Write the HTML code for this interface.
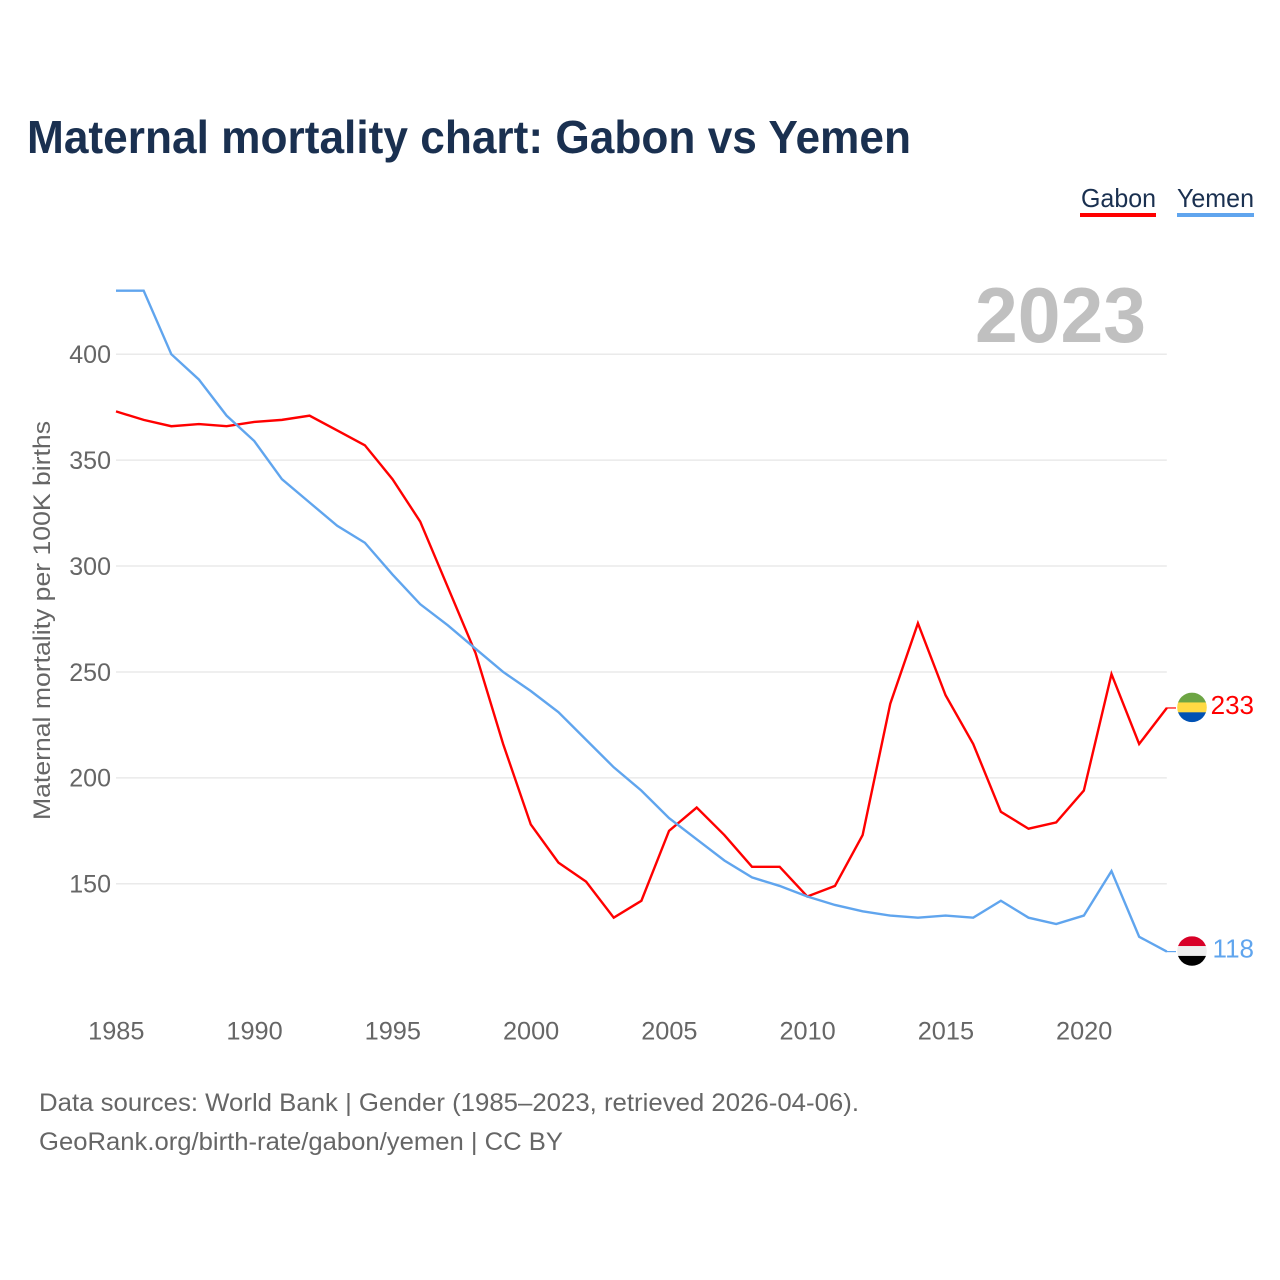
<!DOCTYPE html>
<html lang="en">
<head>
<meta charset="utf-8">
<title>Maternal mortality chart: Gabon vs Yemen</title>
<style>
html,body{margin:0;padding:0;background:#fff;width:1280px;height:1280px;overflow:hidden}
svg{display:block;font-family:"Liberation Sans",sans-serif}
</style>
</head>
<body>
<svg id="chart" xmlns="http://www.w3.org/2000/svg" width="1280" height="1280" viewBox="0 0 1280 1280">
  <defs>
    <clipPath id="clip-gabon"><circle id="clip-gabon-c" r="14.8"></circle></clipPath>
    <clipPath id="clip-yemen"><circle id="clip-yemen-c" r="14.8"></circle></clipPath>
  </defs>
  <rect width="1280" height="1280" fill="#fff"></rect>
  <text x="27" y="153" font-size="46" font-weight="700" fill="#1a3050" textLength="884" lengthAdjust="spacingAndGlyphs">Maternal mortality chart: Gabon vs Yemen</text>
  <g>
    <g>
      <text x="1081" y="207" font-size="26" fill="#1a3050" textLength="75" lengthAdjust="spacingAndGlyphs">Gabon</text>
      <rect x="1080" y="213" width="76" height="4" fill="#ff0000"></rect>
    </g>
    <g>
      <text x="1177" y="207" font-size="26" fill="#1a3050" textLength="77" lengthAdjust="spacingAndGlyphs">Yemen</text>
      <rect x="1177" y="213" width="77" height="4" fill="#60a5ee"></rect>
    </g>
  </g>
  <text x="975" y="342" font-size="78" font-weight="700" fill="#c0c0c0" textLength="171" lengthAdjust="spacingAndGlyphs">2023</text>
  <g id="grid"></g>
  <g id="yticks"></g>
  <g id="xticks"></g>
  <text transform="translate(50,820) rotate(-90)" font-size="24" fill="#666666" textLength="399" lengthAdjust="spacingAndGlyphs">Maternal mortality per 100K births</text>
  <g id="series"></g>
  <g id="ends"></g>
  <text x="39" y="1111" font-size="25" fill="#666666" textLength="820" lengthAdjust="spacingAndGlyphs">Data sources: World Bank | Gender (1985–2023, retrieved 2026-04-06).</text>
  <text x="39" y="1150" font-size="25" fill="#666666" textLength="524" lengthAdjust="spacingAndGlyphs">GeoRank.org/birth-rate/gabon/yemen | CC BY</text>
</svg>
<script>
const years = [1985,1986,1987,1988,1989,1990,1991,1992,1993,1994,1995,1996,1997,1998,1999,2000,2001,2002,2003,2004,2005,2006,2007,2008,2009,2010,2011,2012,2013,2014,2015,2016,2017,2018,2019,2020,2021,2022,2023];
const gabonValues = [373,369,366,367,366,368,369,371,364,357,341,321,290,259,216,178,160,151,134,142,175,186,173,158,158,144,149,173,235,273,239,216,184,176,179,194,249,216,233];
const yemenValues = [430,430,400,388,371,359,341,330,319,311,296,282,272,261,250,241,231,218,205,194,181,171,161,153,149,144,140,137,135,134,135,134,142,134,131,135,156,125,118];
const yTickLabels = [400,350,300,250,200,150];
const xTickLabels = [1985,1990,1995,2000,2005,2010,2015,2020];

const NS = 'http://www.w3.org/2000/svg';
function xScale(year){ return 116 + (year - 1985) * (1166.8 - 116) / 38; }
function yScale(v){ return 354.2 + (400 - v) * (883.8 - 354.2) / 250; }
function make(tag, attrs, parent){
  const el = document.createElementNS(NS, tag);
  for (const k in attrs) el.setAttribute(k, attrs[k]);
  parent.appendChild(el);
  return el;
}

const gridG = document.getElementById('grid');
const yG = document.getElementById('yticks');
yTickLabels.forEach(function(v){
  const line = make('line', {x1:116, x2:1166.8, y1:yScale(v), y2:yScale(v), stroke:'#eaeaea', 'stroke-width':1.5}, gridG);
  
  
  const t = make('text', {x:111, y:yScale(v) + 8.8, 'text-anchor':'end', 'font-size':25, fill:'#666666'}, yG);
  
  
  t.textContent = v;
});

const xG = document.getElementById('xticks');
xTickLabels.forEach(function(y){
  const t = make('text', {x:xScale(y) + 0.3, y:1039.5, 'text-anchor':'middle', 'font-size':25.3, fill:'#666666'}, xG);
  
  
  t.textContent = y;
});

const seriesG = document.getElementById('series');
function drawLine(values, color, name){
  const pts = values.map(function(v, i){ return xScale(years[i]).toFixed(2) + ',' + yScale(v).toFixed(2); }).join(' ');
  const p = make('polyline', {points:pts, fill:'none', stroke:color, 'stroke-width':2.4, 'stroke-linejoin':'miter'}, seriesG);
  
  
}
drawLine(gabonValues, '#ff0000', 'line-gabon');
drawLine(yemenValues, '#60a5ee', 'line-yemen');

const endsG = document.getElementById('ends');
function drawEnd(values, color, clipId, bands, name){
  const v = values[values.length - 1];
  const yEnd = yScale(v);
  const stub = make('line', {x1:1166, x2:1176, y1:yEnd, y2:yEnd, stroke:color, 'stroke-width':1.2}, endsG);
  
  
  const cy = yEnd - 0.6;
  const c = document.getElementById(clipId + '-c');
  c.setAttribute('cx', 1192);
  c.setAttribute('cy', cy);
  const flag = make('g', {'clip-path':'url(#' + clipId + ')'}, endsG);
  
  
  const h = 29.6 / bands.length;
  bands.forEach(function(col, i){
    const r = make('rect', {x:1177, y:cy - 14.8 + i * h, width:30, height:h + 0.2, fill:col}, flag);
    
    
  });
  const t = make('text', {x:1254, y:yEnd + 5.8, 'text-anchor':'end', 'font-size':26, fill:color}, endsG);
  
  
  t.textContent = v;
}
drawEnd(gabonValues, '#ff0000', 'clip-gabon', ['#6da544','#ffda44','#0052b4'], 'gabon');
drawEnd(yemenValues, '#60a5ee', 'clip-yemen', ['#d80027','#eeeeee','#000000'], 'yemen');
</script>
</body>
</html>
